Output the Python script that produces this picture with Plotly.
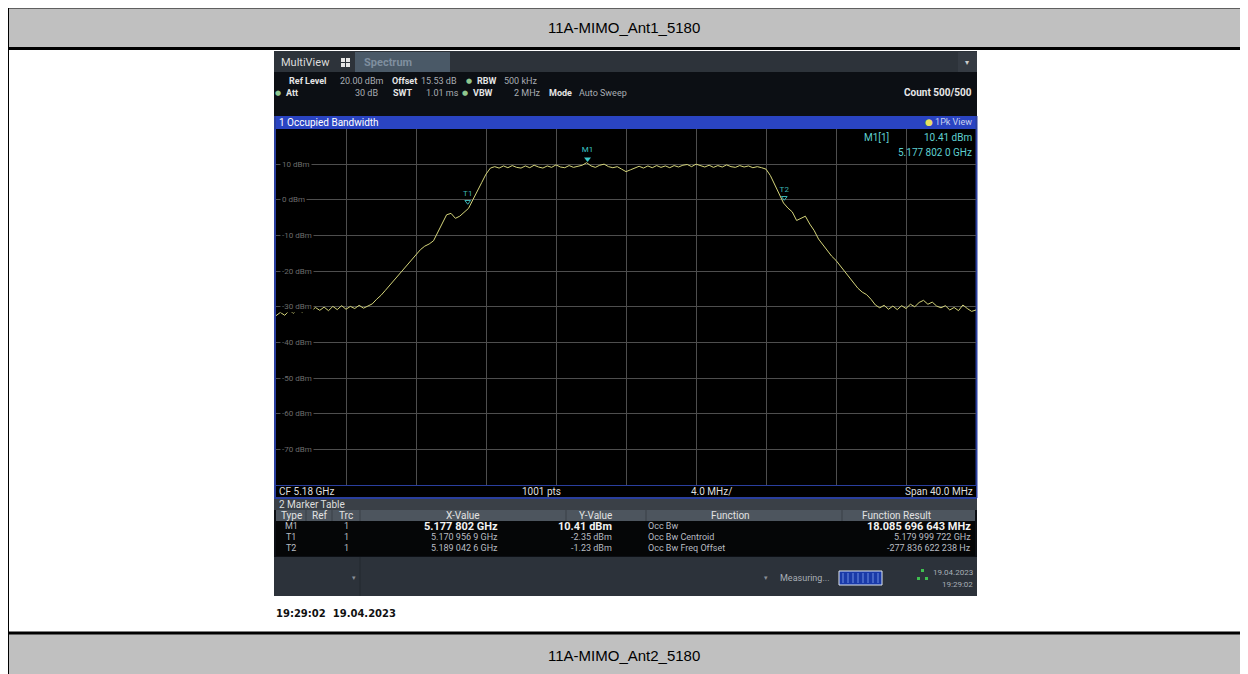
import plotly.graph_objects as go

# The page body has an 8px margin, so the figure is 1240x666 and every
# pixel position below is measured on the full 1248x674 window.
OFF = 8
W, H = 1240, 666

# Spectrum trace: CF 5.18 GHz, span 40 MHz, 0.25 MHz steps
start_ghz = 5.16
step_ghz = 0.00025
level_dbm = [
    -32.5, -31.6, -32.4, -31.1, -31.8, -30.7, -31.6, -30.5, -31.3, -30.2, -31.0,
    -30.1, -31.1, -29.9, -30.8, -29.7, -30.7, -29.9, -30.5, -29.6, -30.4, -29.9,
    -29.2, -27.9, -26.8, -25.4, -24.0, -22.5, -21.0, -19.6, -18.3, -16.9, -15.5,
    -14.0, -13.0, -12.4, -11.5, -9.0, -6.5, -4.2, -3.8, -5.2, -4.6, -3.6, -2.4,
    0.0, 2.2, 4.8, 7.2,
    8.9, 9.3, 8.9, 9.5, 9.0, 9.6, 9.1, 8.9, 9.5, 9.0, 9.7, 9.2, 8.9, 9.5, 9.1,
    9.8, 9.2, 9.0, 9.6, 9.1, 9.4, 9.7, 10.41, 9.5, 9.1, 9.7, 10.0, 9.3, 9.0, 9.3,
    8.6, 7.9, 8.4, 8.9, 9.4, 8.9, 9.5, 9.0, 9.6, 9.1, 9.5, 9.0, 9.6, 9.2, 9.7,
    9.9, 9.3, 10.0, 9.5, 9.2, 9.7, 9.1, 9.6, 9.2, 9.8, 9.3, 9.1, 9.6, 9.2, 9.5,
    9.0, 9.3, 9.0,
    8.6, 6.8, 4.2, 1.8, -0.9, -2.3, -3.4, -5.8, -5.2, -4.6, -6.8, -8.6, -11.0,
    -12.6, -14.4, -15.8, -17.0, -18.6, -20.0, -21.6, -23.3, -24.8, -25.9, -26.6,
    -27.9, -29.5, -30.3, -29.6, -30.7, -29.8, -30.8, -29.7, -30.5, -29.3, -30.0,
    -28.8, -28.2, -29.3, -28.7, -29.8, -30.3, -29.7, -30.9, -30.2, -31.1, -29.5,
    -30.5, -31.3, -30.9,
]
freq_ghz = [round(start_ghz + step_ghz * i, 6) for i in range(len(level_dbm))]

# Markers
marker_names = ["M1", "T1", "T2"]
marker_freq_ghz = [5.177802, 5.1709569, 5.1890426]
marker_level_dbm = [10.41, -2.35, -1.23]

y_ticks = [10, 0, -10, -20, -30, -40, -50, -60, -70]

# Marker table
table_type = ["M1", "T1", "T2"]
table_trc = ["1", "1", "1"]
table_x = ["5.177 802 GHz", "5.170 956 9 GHz", "5.189 042 6 GHz"]
table_y = ["10.41 dBm", "-2.35 dBm", "-1.23 dBm"]
table_func = ["Occ Bw", "Occ Bw Centroid", "Occ Bw Freq Offset"]
table_result = ["18.085 696 643 MHz", "5.179 999 722 GHz", "-277.836 622 238 Hz"]

UI = "Liberation Sans Narrow, Roboto, DejaVu Sans, sans-serif"
ARIAL = "Liberation Sans, Arial, sans-serif"

shapes = []
ann = []


def fx(x):
    return (x - OFF) / W


def fy(y):
    return 1 - (y - OFF) / H


def box(x0, y0, x1, y1, fill, line_color=None, lw=0):
    shapes.append(dict(type="rect", xref="paper", yref="paper",
                       x0=fx(x0), x1=fx(x1), y0=fy(y1), y1=fy(y0),
                       fillcolor=fill, line=dict(width=lw, color=line_color or fill),
                       layer="below"))


def seg(x0, y0, x1, y1, color, lw=1):
    shapes.append(dict(type="line", xref="paper", yref="paper",
                       x0=fx(x0), x1=fx(x1), y0=fy(y0), y1=fy(y1),
                       line=dict(width=lw, color=color), layer="below"))


def label(x, y, s, size=9, color="#a9adb3", anchor="left", bold=False, family=UI):
    if bold:
        s = "<b>" + s + "</b>"
    ann.append(dict(x=fx(x), y=fy(y), xref="paper", yref="paper", text=s,
                    showarrow=False, xanchor=anchor, yanchor="middle",
                    font=dict(size=size, color=color, family=family)))


# ---- document table ----
box(8, 8, 1245, 48, "#c0c0c0")
box(8, 634, 1245, 674, "#c0c0c0")
seg(6, 7, 1247, 7, "black", 3)
seg(6, 48.5, 1247, 48.5, "black", 3)
seg(6, 633, 1247, 633, "black", 3)
seg(7.5, 6, 7.5, 674, "black", 3)
seg(1245.5, 6, 1245.5, 674, "black", 3)
label(624, 28, "11A-MIMO_Ant1_5180", size=15, color="#000000", anchor="center", family=ARIAL)
label(624, 655, "11A-MIMO_Ant2_5180", size=15, color="#000000", anchor="center", family=ARIAL)
label(274, 613, "19:29:02  19.04.2023", size=10, color="#111111", bold=True,
      family="DejaVu Sans, sans-serif")

# ---- instrument screen ----
box(274, 51, 977, 596, "#0c0f14")
box(274, 51, 977, 72, "#2d333a")
box(355, 52, 450, 72, "#4a5967")
box(958, 52, 977, 72, "#353b43")
for sx, sy in [(341, 58), (346, 58), (341, 63), (346, 63)]:
    box(sx, sy, sx + 4, sy + 4, "#e6e6e6")
label(279, 62, "MultiView", size=11, color="#dcdcdc")
label(362, 62, "Spectrum", size=11, color="#7f8f9f", bold=True)
label(967, 62, "▾", size=8, color="#cccccc", anchor="center")

# setting lines
label(287, 81, "Ref Level", size=9, color="#e4e4e4", bold=True)
label(338, 81, "20.00 dBm", size=9)
label(390, 81, "Offset", size=9, color="#e4e4e4", bold=True)
label(419, 81, "15.53 dB", size=9)
label(469, 81, "●", size=7, color="#8fc78f", anchor="center")
label(475, 81, "RBW", size=9, color="#e4e4e4", bold=True)
label(502, 81, "500 kHz", size=9)
label(278, 93, "●", size=7, color="#8fc78f", anchor="center")
label(284, 93, "Att", size=9, color="#e4e4e4", bold=True)
label(380, 93, "30 dB", size=9, anchor="right")
label(391, 93, "SWT", size=9, color="#e4e4e4", bold=True)
label(424, 93, "1.01 ms", size=9)
label(465, 93, "●", size=7, color="#8fc78f", anchor="center")
label(471, 93, "VBW", size=9, color="#e4e4e4", bold=True)
label(512, 93, "2 MHz", size=9)
label(547, 93, "Mode", size=9, color="#e4e4e4", bold=True)
label(577, 93, "Auto Sweep", size=9)
label(974, 93, "Count 500/500", size=10, color="#e8e8e8", anchor="right", bold=True)

# blue window title bar + frame
box(274, 116, 977, 129, "#2a44c2")
label(277, 122.5, "1 Occupied Bandwidth", size=10, color="#ffffff")
label(974, 122.5, '<span style="color:#e8e060">●</span> 1Pk View', size=9,
      color="#c9d2f0", anchor="right")
box(276, 129, 976, 485, "#000000")
seg(275, 116, 275, 498, "#2a3f9e", 2)
seg(976.5, 116, 976.5, 498, "#2a3f9e", 2)

# footer of the diagram
box(276, 485.5, 976, 497, "#000000")
seg(274, 485.5, 977, 485.5, "#2a3f9e", 1)
seg(274, 498, 977, 498, "#2a3f9e", 2)
label(277, 491.5, "CF 5.18 GHz", size=10, color="#dedede")
label(541, 491.5, "1001 pts", size=10, color="#dedede", anchor="center")
label(711, 491.5, "4.0 MHz/", size=10, color="#dedede", anchor="center")
label(975, 491.5, "Span 40.0 MHz", size=10, color="#dedede", anchor="right")

# marker table
box(274, 499, 977, 510, "#3a4047")
label(277, 504.5, "2 Marker Table", size=10, color="#dedede")
box(276, 510, 975, 521, "#4d555e")
for cx in [306, 332, 360, 566, 646, 842]:
    seg(cx, 510, cx, 521, "#3a4047", 1)
box(276, 521, 975, 556, "#050607")
label(291, 515.5, "Type", size=10, color="#e2e2e2", anchor="center")
label(319, 515.5, "Ref", size=10, color="#e2e2e2", anchor="center")
label(346, 515.5, "Trc", size=10, color="#e2e2e2", anchor="center")
label(463, 515.5, "X-Value", size=10, color="#e2e2e2", anchor="center")
label(595, 515.5, "Y-Value", size=10, color="#e2e2e2", anchor="center")
label(730, 515.5, "Function", size=10, color="#e2e2e2", anchor="center")
label(896, 515.5, "Function Result", size=10, color="#e2e2e2", anchor="center")
row_y = [526, 537, 548]
for k in range(3):
    first = k == 0
    sz = 11 if first else 9
    col = "#f2f2f2" if first else "#b8bcc2"
    label(291, row_y[k], table_type[k], size=9, color="#b8bcc2", anchor="center")
    label(346, row_y[k], table_trc[k], size=9, color="#b8bcc2", anchor="center")
    label(500, row_y[k], table_x[k], size=sz, color=col, anchor="right", bold=first)
    label(614, row_y[k], table_y[k], size=sz, color=col, anchor="right", bold=first)
    label(646, row_y[k], table_func[k], size=9, color="#b8bcc2")
    label(973, row_y[k], table_result[k], size=sz, color=col, anchor="right", bold=first)

# status bar
box(274, 557, 977, 596, "#2c323a")
seg(360, 557, 360, 596, "#23282e", 1)
label(354, 578, "▾", size=7, color="#8a9098", anchor="center")
label(766, 578, "▾", size=7, color="#8a9098", anchor="center")
label(778, 578, "Measuring...", size=9, color="#a8aeb6")
box(839, 571, 882, 585, "#1a3aa8", "#dfe6f0", 1)
for px_ in range(843, 880, 5):
    seg(px_, 573, px_, 583, "#6f8ee0", 1)
for gx, gy in [(921, 569), (917, 577), (925, 577)]:
    box(gx, gy, gx + 3, gy + 3, "#3fbf4f")
label(975, 572, "19.04.2023", size=8, color="#a8aeb6", anchor="right")
label(975, 584, "19:29:02", size=8, color="#a8aeb6", anchor="right")

# y-axis labels inside the diagram
for v in y_ticks:
    ann.append(dict(x=5.1602, y=v, xref="x", yref="y", text=f"{v} dBm", showarrow=False,
                    xanchor="left", yanchor="middle", bgcolor="#000000", borderpad=1,
                    font=dict(size=8, color="#6c6c6c", family=UI)))

# marker info at top right
label(862, 137, "M1[1]", size=10, color="#5fd0d0")
label(974, 137, "10.41 dBm", size=10, color="#5fd0d0", anchor="right")
label(974, 152, "5.177 802 0 GHz", size=10, color="#5fd0d0", anchor="right")

fig = go.Figure()
fig.add_trace(go.Scatter(
    x=freq_ghz, y=level_dbm, mode="lines",
    line=dict(color="#d4d47a", width=1), hoverinfo="skip", showlegend=False
))
# M1 marker (filled triangle) and temporary markers T1/T2
fig.add_trace(go.Scatter(
    x=marker_freq_ghz[:1], y=[marker_level_dbm[0] + 1.0], mode="markers+text",
    marker=dict(symbol="triangle-down", size=6, color="#3cc8c8"),
    text=marker_names[:1], textposition="top center",
    textfont=dict(size=8, color="#3cc8c8", family=UI), showlegend=False
))
fig.add_trace(go.Scatter(
    x=marker_freq_ghz[1:], y=[v + 1.8 for v in marker_level_dbm[1:]], mode="markers+text",
    marker=dict(symbol="triangle-down-open", size=5, color="#3cb4b4", line=dict(width=1)),
    text=marker_names[1:], textposition="top center",
    textfont=dict(size=8, color="#3cb4b4", family=UI), showlegend=False
))

fig.update_layout(
    width=W, height=H,
    margin=dict(l=0, r=0, t=0, b=0),
    paper_bgcolor="white",
    plot_bgcolor="rgba(0,0,0,0)",
    shapes=shapes,
    annotations=ann,
    xaxis=dict(domain=[fx(276), fx(976)], range=[5.16, 5.20], tick0=5.16, dtick=0.004,
               showgrid=True, gridcolor="#4e4e4e", gridwidth=1, showticklabels=False,
               zeroline=False, showline=False, ticks="", fixedrange=True),
    yaxis=dict(domain=[fy(485), fy(128.5)], range=[-80, 20], dtick=10,
               showgrid=True, gridcolor="#4e4e4e", gridwidth=1, showticklabels=False,
               zeroline=False, showline=False, ticks="", fixedrange=True),
)

fig.write_html("out.html")
